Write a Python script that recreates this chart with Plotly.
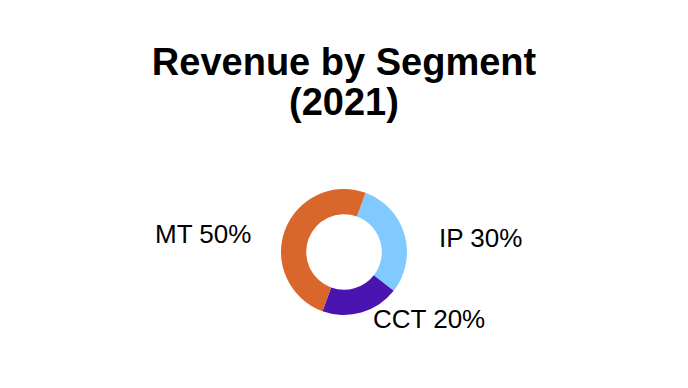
import math
import plotly.graph_objects as go

segments = ["IP", "CCT", "MT"]
shares = [30, 20, 50]
colors = ["#80CAFF", "#4A14B0", "#D9662B"]

W, H = 688, 388
PAGE_MARGIN = 8  # default body margin of the html page, compensated below
ROTATION = 20  # degrees clockwise from 12 o'clock where the first slice starts

# target layout in page pixels
center_px = (344 - PAGE_MARGIN, 252 - PAGE_MARGIN)
radius_px = 63

dom_x = [(center_px[0] - radius_px) / W, (center_px[0] + radius_px) / W]
dom_y = [1 - (center_px[1] + radius_px) / H, 1 - (center_px[1] - radius_px) / H]

fig = go.Figure(go.Pie(
    labels=segments,
    values=shares,
    hole=0.6,
    sort=False,
    direction="clockwise",
    rotation=ROTATION,
    marker=dict(colors=colors, line=dict(width=0)),
    textinfo="none",
    hoverinfo="label+percent",
    showlegend=False,
    domain=dict(x=dom_x, y=dom_y),
))

# outside labels placed around the donut from each slice's mid-angle
cx, cy = center_px
A, B = 97, 52  # label offsets from the centre (px)
total = sum(shares)
cum = 0
annotations = []
for lab, val in zip(segments, shares):
    mid = math.radians(ROTATION + (cum + val / 2) / total * 360)
    cum += val
    s, c = math.sin(mid), math.cos(mid)
    px = cx + A * s
    py = cy - B * c
    xanchor = "left" if s > 0 else "right"
    if abs(c) < 0.7:
        yanchor = "middle"
    else:
        yanchor = "top" if c < 0 else "bottom"
    annotations.append(dict(
        text=f"{lab} {round(val / total * 100)}%",
        x=px / W, y=1 - py / H, xref="paper", yref="paper",
        xanchor=xanchor, yanchor=yanchor, showarrow=False,
        font=dict(family="Liberation Sans, Arial", size=26, color="#000000"),
    ))

title_x = (344 - PAGE_MARGIN) / W
annotations.append(dict(
    text="<b>(2021)</b>", x=title_x, y=1 - (102 - PAGE_MARGIN) / H,
    xref="paper", yref="paper",
    xanchor="center", yanchor="middle", showarrow=False,
    font=dict(family="Liberation Sans, Arial", size=38, color="#000000"),
))

fig.update_layout(
    width=W, height=H,
    paper_bgcolor="white", plot_bgcolor="white",
    margin=dict(l=0, r=0, t=0, b=0),
    title=dict(
        text="<b>Revenue by Segment</b>",
        x=title_x, xanchor="center", y=1 - (62 - PAGE_MARGIN) / H, yanchor="middle",
        font=dict(family="Liberation Sans, Arial", size=38, color="#000000"),
    ),
    annotations=annotations,
)

fig.write_html("out.html")
